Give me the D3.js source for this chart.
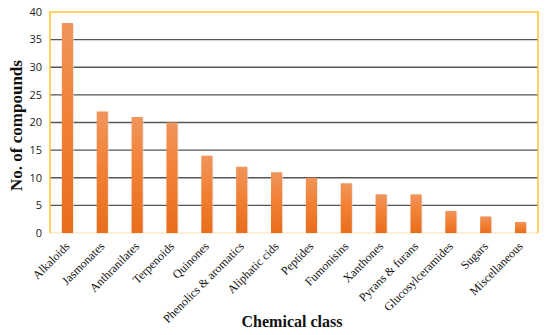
<!DOCTYPE html>
<html>
<head>
<meta charset="utf-8">
<script src="https://cdn.jsdelivr.net/npm/d3@7"></script>
<style>
  body { margin: 0; background: #fff; }
  svg { display: block; }
</style>
</head>
<body>
<div id="chart"></div>
<script>
// chart values
const classes = ["Alkaloids", "Jasmonates", "Anthranilates", "Terpenoids", "Quinones",
  "Phenolics & aromatics", "Aliphatic cids", "Peptides", "Fumonisins", "Xanthones",
  "Pyrans & furans", "Glucosylceramides", "Sugars", "Miscellaneous"];
const compounds = [38, 22, 21, 20, 14, 12, 11, 10, 9, 7, 7, 4, 3, 2];
const yTicks = [0, 5, 10, 15, 20, 25, 30, 35, 40];

const W = 550, H = 335;
const margin = { top: 12, right: 12, bottom: 102, left: 50 };

const svg = d3.select("#chart").append("svg")
  .attr("width", W).attr("height", H);

const defs = svg.append("defs");
const grad = defs.append("linearGradient")
  .attr("id", "barGrad").attr("x1", 0).attr("y1", 0).attr("x2", 0).attr("y2", 1);
grad.append("stop").attr("offset", "0%").attr("stop-color", "#f0955c");
grad.append("stop").attr("offset", "45%").attr("stop-color", "#f28135");
grad.append("stop").attr("offset", "100%").attr("stop-color", "#e86d1c");

const x = d3.scaleBand()
  .domain(classes)
  .range([margin.left, W - margin.right])
  .paddingInner(0.68).paddingOuter(0.34);

const y = d3.scaleLinear()
  .domain([0, 40])
  .range([H - margin.bottom, margin.top]);

// gridlines
svg.append("g")
  .selectAll("line")
  .data(yTicks.filter(d => d > 0 && d < 40))
  .enter().append("line")
    .attr("x1", margin.left).attr("x2", W - margin.right)
    .attr("y1", d => y(d)).attr("y2", d => y(d))
    .attr("stroke", "#555").attr("stroke-width", 1.4);

// bottom axis line
svg.append("line")
  .attr("x1", margin.left).attr("x2", W - margin.right)
  .attr("y1", y(0)).attr("y2", y(0))
  .attr("stroke", "#f7e2b0").attr("stroke-width", 1.2);

// bars (with faint shadow)
svg.append("g")
  .selectAll("rect.shadow")
  .data(compounds)
  .enter().append("rect")
    .attr("x", (d, i) => x(classes[i]) + 1)
    .attr("y", d => y(d) + 1)
    .attr("width", x.bandwidth())
    .attr("height", d => y(0) - y(d) - 1)
    .attr("fill", "#d9d9d9").attr("opacity", 0.6);

svg.append("g")
  .selectAll("rect.bar")
  .data(compounds)
  .enter().append("rect")
    .attr("class", "bar")
    .attr("x", (d, i) => x(classes[i]))
    .attr("y", d => y(d))
    .attr("width", x.bandwidth())
    .attr("height", d => y(0) - y(d))
    .attr("fill", "url(#barGrad)");

// frame (yellow on left, top, right)
svg.append("path")
  .attr("d", `M${margin.left},${y(0)}V${margin.top}H${W - margin.right}V${y(0)}`)
  .attr("fill", "none").attr("stroke", "#ffc52a").attr("stroke-width", 1.5);

// y tick labels
svg.append("g")
  .selectAll("text")
  .data(yTicks)
  .enter().append("text")
    .attr("x", margin.left - 8)
    .attr("y", d => y(d))
    .attr("dy", "0.35em")
    .attr("text-anchor", "end")
    .attr("font-family", "Open Sans, sans-serif")
    .attr("font-size", 11)
    .attr("fill", "#222")
    .text(d => d);

// x labels
svg.append("g")
  .selectAll("text")
  .data(classes)
  .enter().append("text")
    .attr("transform", d => `translate(${x(d) + x.bandwidth() / 2 + 3},${y(0) + 14}) rotate(-45)`)
    .attr("text-anchor", "end")
    .attr("font-family", "Liberation Serif, serif")
    .attr("font-size", 12)
    .attr("fill", "#111")
    .text(d => d);

// axis titles
svg.append("text")
  .attr("transform", `translate(22,${(margin.top + y(0)) / 2 + 3}) rotate(-90)`)
  .attr("text-anchor", "middle")
  .attr("font-family", "Liberation Serif, serif")
  .attr("font-weight", "bold")
  .attr("font-size", 17)
  .attr("fill", "#111")
  .text("No. of compounds");

svg.append("text")
  .attr("x", 292).attr("y", 327)
  .attr("text-anchor", "middle")
  .attr("font-family", "Liberation Serif, serif")
  .attr("font-weight", "bold")
  .attr("font-size", 16)
  .attr("fill", "#111")
  .text("Chemical class");
</script>
</body>
</html>
